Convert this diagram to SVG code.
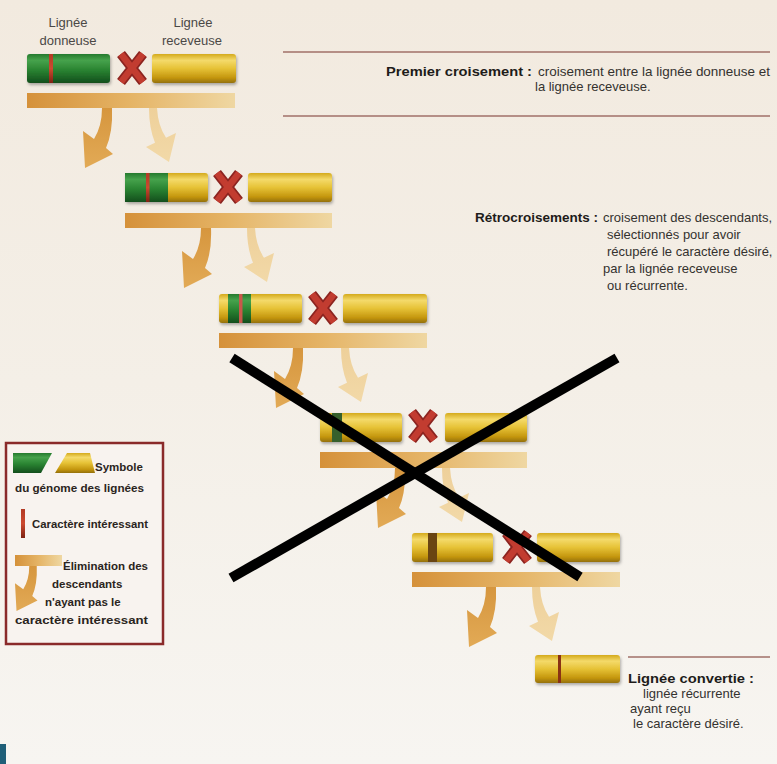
<svg xmlns="http://www.w3.org/2000/svg" xmlns:xlink="http://www.w3.org/1999/xlink" width="777" height="764" viewBox="0 0 777 764">
<style>
.t{font-family:"Liberation Sans",Arial,sans-serif;font-size:13px;fill:#34322f}
.b{font-family:"Liberation Sans",Arial,sans-serif;font-weight:bold;font-size:13.5px;fill:#1e1c1a}
.lg{font-family:"Liberation Sans",Arial,sans-serif;font-weight:bold;font-size:11.5px;fill:#2a2420}
.hd{font-family:"Liberation Sans",Arial,sans-serif;font-size:13px;fill:#4a4846;text-anchor:middle}
.rule{stroke:#a07068;stroke-width:1.5;fill:none}
.bar{filter:url(#sh)}
.plat{fill:url(#pg)}
.aL{fill:url(#ag)}
.aR{fill:url(#ag2)}
.cross{stroke:#000;stroke-width:10;fill:none}
</style>
<defs>
<linearGradient id="bg" x1="0" y1="0" x2="0" y2="1">
<stop offset="0" stop-color="#f2eadf"/><stop offset="0.5" stop-color="#f4efe7"/><stop offset="1" stop-color="#f7f5f1"/>
</linearGradient>
<linearGradient id="yg" x1="0" y1="0" x2="0" y2="1">
<stop offset="0" stop-color="#d4aa1c"/><stop offset="0.22" stop-color="#f4da6a"/><stop offset="0.5" stop-color="#e6c236"/><stop offset="0.82" stop-color="#c4960e"/><stop offset="1" stop-color="#94700a"/>
</linearGradient>
<linearGradient id="gg" x1="0" y1="0" x2="0" y2="1">
<stop offset="0" stop-color="#257a2e"/><stop offset="0.22" stop-color="#46a24c"/><stop offset="0.55" stop-color="#2a8432"/><stop offset="1" stop-color="#134e1c"/>
</linearGradient>
<linearGradient id="rg" x1="0" y1="0" x2="0" y2="1">
<stop offset="0" stop-color="#b23a24"/><stop offset="0.5" stop-color="#cc4a30"/><stop offset="1" stop-color="#7e2212"/>
</linearGradient>
<linearGradient id="pg" x1="0" y1="0" x2="1" y2="0">
<stop offset="0" stop-color="#d5913a"/><stop offset="0.5" stop-color="#e5b466"/><stop offset="1" stop-color="#efd7a2"/>
</linearGradient>
<linearGradient id="ag" x1="0" y1="0" x2="0" y2="1">
<stop offset="0" stop-color="#d6963e"/><stop offset="1" stop-color="#e2aa56"/>
</linearGradient>
<linearGradient id="ag2" x1="0" y1="0" x2="0" y2="1">
<stop offset="0" stop-color="#eed09a"/><stop offset="1" stop-color="#f2d9a8"/>
</linearGradient>
<filter id="sh" x="-10%" y="-20%" width="125%" height="160%">
<feDropShadow dx="1" dy="2" stdDeviation="1.5" flood-color="#000" flood-opacity="0.3"/>
</filter>
<g id="redx">
<path d="M-11 -14 L11 14 M11 -14 L-11 14" stroke="#8c2420" stroke-width="10" fill="none"/>
<path d="M-11 -14 L11 14 M11 -14 L-11 14" stroke="#c23c30" stroke-width="6.5" fill="none"/>
</g>
<path id="arrowL" d="M-5 0 L5 0 Q6 24 -1 40 L6 46 L-22 60 L-24 23 L-13 31 Q-5 18 -5 0 Z"/>
<path id="arrowR" d="M-4 0 L4 0 Q5 18 13 29.7 L23 25 L16 54 L-7 39 L2 34.8 Q-4 20 -4 0 Z"/>
</defs>

<rect width="777" height="764" fill="url(#bg)"/>
<rect x="0" y="744" width="6" height="20" fill="#1f5f78"/>

<g id="labels-top">
<text class="hd" x="68" y="27">Lignée</text>
<text class="hd" x="68" y="45">donneuse</text>
<text class="hd" x="193" y="27">Lignée</text>
<text class="hd" x="192" y="45">receveuse</text>
</g>

<g id="row1" transform="translate(27,54)">
<rect class="bar" width="83" height="29" rx="3" fill="url(#gg)"/>
<rect x="22" width="4" height="29" fill="url(#rg)"/>
<use href="#redx" x="105" y="14"/>
<rect class="bar" x="125" width="84" height="29" rx="3" fill="url(#yg)"/>
<rect class="plat" y="39" width="208" height="15"/>
</g>

<g id="row2" transform="translate(125,173)">
<rect class="bar" width="83" height="29" rx="3" fill="url(#yg)"/>
<rect width="43" height="29" fill="url(#gg)"/>
<rect x="21" width="3.5" height="29" fill="url(#rg)"/>
<use href="#redx" x="103" y="14"/>
<rect class="bar" x="123" width="84" height="29" rx="3" fill="url(#yg)"/>
<rect class="plat" y="40" width="207" height="15"/>
</g>

<g id="row3" transform="translate(219,294)">
<rect class="bar" width="83" height="29" rx="3" fill="url(#yg)"/>
<rect x="9" width="23" height="29" fill="url(#gg)"/>
<rect x="20" width="3.5" height="29" fill="#c8584a"/>
<use href="#redx" x="104" y="14"/>
<rect class="bar" x="124" width="84" height="29" rx="3" fill="url(#yg)"/>
<rect class="plat" y="39" width="208" height="15"/>
</g>

<g id="row4" transform="translate(320,413)">
<rect class="bar" width="82" height="29" rx="3" fill="url(#yg)"/>
<rect x="12" width="10" height="29" fill="#36602c"/>
<use href="#redx" x="103" y="13"/>
<rect class="bar" x="125" width="82" height="29" rx="3" fill="url(#yg)"/>
<rect class="plat" y="39" width="207" height="16"/>
</g>

<g id="row5" transform="translate(412,533)">
<rect class="bar" width="81" height="29" rx="3" fill="url(#yg)"/>
<rect x="16" width="9" height="29" fill="#6a4512"/>
<use href="#redx" x="105" y="14"/>
<rect class="bar" x="125" width="83" height="29" rx="3" fill="url(#yg)"/>
<rect class="plat" y="39" width="208" height="15"/>
</g>

<g id="row6" transform="translate(535,655)">
<rect class="bar" width="85" height="28" rx="3" fill="url(#yg)"/>
<rect x="23" width="3" height="28" fill="#8a3214"/>
</g>

<g id="connectors">
<use href="#arrowL" class="aL" x="107" y="108"/>
<use href="#arrowR" class="aR" x="153" y="108"/>
<use href="#arrowL" class="aL" x="206" y="228"/>
<use href="#arrowR" class="aR" x="251" y="228"/>
<use href="#arrowL" class="aL" x="298" y="348"/>
<use href="#arrowR" class="aR" x="345" y="348"/>
<use href="#arrowL" class="aL" x="400" y="468"/>
<use href="#arrowR" class="aR" x="446" y="468"/>
<use href="#arrowL" class="aL" x="491" y="587"/>
<use href="#arrowR" class="aR" x="536" y="587"/>
</g>

<g id="text-premier">
<line class="rule" x1="283" y1="52" x2="770" y2="52"/>
<text class="b" x="386" y="76" textLength="146" lengthAdjust="spacingAndGlyphs">Premier croisement :</text>
<text class="t" x="538" y="76" textLength="232" lengthAdjust="spacingAndGlyphs">croisement entre la lignée donneuse et</text>
<text class="t" x="535" y="91">la lignée receveuse.</text>
<line class="rule" x1="283" y1="116" x2="770" y2="116"/>
</g>

<g id="text-retro">
<text class="b" x="598" y="222" text-anchor="end">Rétrocroisements :</text>
<text class="t" x="603" y="222">croisement des descendants,</text>
<text class="t" x="607" y="239">sélectionnés pour avoir</text>
<text class="t" x="607" y="256">récupéré le caractère désiré,</text>
<text class="t" x="603" y="273">par la lignée receveuse</text>
<text class="t" x="607" y="290">ou récurrente.</text>
</g>

<g id="text-convertie">
<line class="rule" x1="628" y1="657" x2="770" y2="657"/>
<text class="b" x="628" y="683" textLength="126" lengthAdjust="spacingAndGlyphs">Lignée convertie :</text>
<text class="t" x="643" y="698">lignée récurrente</text>
<text class="t" x="630" y="713">ayant reçu</text>
<text class="t" x="633" y="728">le caractère désiré.</text>
</g>

<g id="legend">
<rect x="6" y="443" width="157" height="201" fill="#f8f3ef" stroke="#8a2a2a" stroke-width="2.5"/>
<polygon points="13,453 52,453 41,473 13,473" fill="url(#gg)"/>
<polygon points="67,453 90,453 95,473 55,473" fill="url(#yg)"/>
<text class="lg" x="95" y="471">Symbole</text>
<text class="lg" x="15" y="492" textLength="129" lengthAdjust="spacingAndGlyphs">du génome des lignées</text>
<rect x="21" y="509" width="4" height="29" fill="url(#rg)"/>
<text class="lg" x="32" y="528" textLength="116" lengthAdjust="spacingAndGlyphs">Caractère intéressant</text>
<rect x="15" y="555" width="47" height="11" class="plat"/>
<use href="#arrowL" class="aL" transform="translate(33,566) scale(0.75)"/>
<text class="lg" x="63" y="570">Élimination des</text>
<text class="lg" x="52" y="588">descendants</text>
<text class="lg" x="45" y="606">n'ayant pas le</text>
<text class="lg" x="15" y="624" textLength="133" lengthAdjust="spacingAndGlyphs">caractère intéressant</text>
</g>

<g id="big-cross">
<line class="cross" x1="232" y1="358" x2="580" y2="577"/>
<line class="cross" x1="617" y1="358" x2="231" y2="578"/>
</g>
</svg>
